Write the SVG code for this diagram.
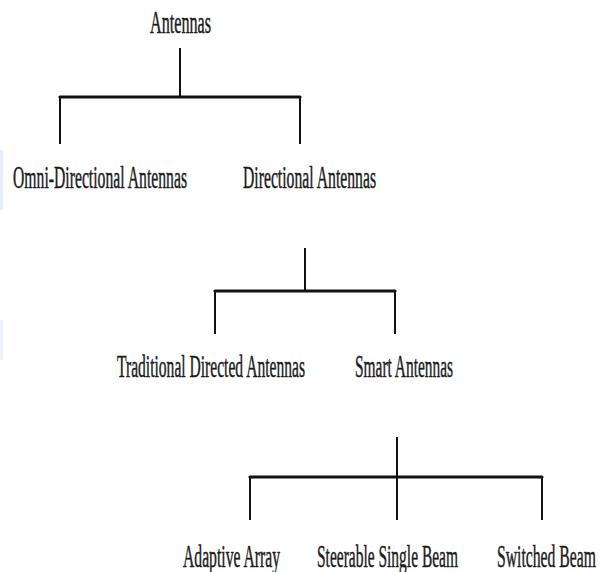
<svg xmlns="http://www.w3.org/2000/svg" width="601" height="572" viewBox="0 0 601 572">
  <style>
    .label { font-family: "Liberation Serif", "Times New Roman", serif; font-size: 31px; fill: #1c1c1c; stroke: #1c1c1c; stroke-width: 0.5; }
    .stem { stroke: #111; stroke-width: 2; fill: none; }
    .bar { stroke: #111; stroke-width: 3.2; fill: none; stroke-linecap: round; }
  </style>
  <rect x="0" y="0" width="601" height="572" fill="#ffffff"/>
  <!-- faint edge tint on the left border -->
  <rect x="0" y="150" width="3" height="60" fill="#e6eef9"/>
  <rect x="0" y="320" width="3" height="40" fill="#eef2f9"/>

  <g id="connectors">
    <!-- Antennas -> two families -->
    <line class="stem" x1="180" y1="48" x2="180" y2="97"/>
    <line class="bar" x1="60" y1="97" x2="300" y2="97"/>
    <line class="stem" x1="60" y1="97" x2="60" y2="144"/>
    <line class="stem" x1="300" y1="97" x2="300" y2="144"/>
    <!-- Directional -> traditional / smart -->
    <line class="stem" x1="305" y1="248" x2="305" y2="291"/>
    <line class="bar" x1="215" y1="291" x2="395" y2="291"/>
    <line class="stem" x1="215" y1="291" x2="215" y2="334"/>
    <line class="stem" x1="395" y1="291" x2="395" y2="334"/>
    <!-- Smart -> three beam types -->
    <line class="stem" x1="397" y1="437" x2="397" y2="520"/>
    <line class="bar" x1="250" y1="477" x2="542" y2="477"/>
    <line class="stem" x1="250" y1="477" x2="250" y2="520"/>
    <line class="stem" x1="542" y1="477" x2="542" y2="520"/>
  </g>

  <!-- labels are set in a condensed serif: scaled to half width -->
  <g id="antennas">
    <text class="label" transform="translate(150,33) scale(0.5,1)" textLength="122" lengthAdjust="spacingAndGlyphs">Antennas</text>
  </g>
  <g id="omni-directional">
    <text class="label" transform="translate(13,188) scale(0.5,1)" textLength="348" lengthAdjust="spacingAndGlyphs">Omni-Directional Antennas</text>
  </g>
  <g id="directional">
    <text class="label" transform="translate(243,188) scale(0.5,1)" textLength="266" lengthAdjust="spacingAndGlyphs">Directional Antennas</text>
  </g>
  <g id="traditional-directed">
    <text class="label" transform="translate(117,377) scale(0.5,1)" textLength="376" lengthAdjust="spacingAndGlyphs">Traditional Directed Antennas</text>
  </g>
  <g id="smart">
    <text class="label" transform="translate(355,377) scale(0.5,1)" textLength="196" lengthAdjust="spacingAndGlyphs">Smart Antennas</text>
  </g>
  <g id="adaptive-array">
    <text class="label" transform="translate(183,567) scale(0.5,1)" textLength="194" lengthAdjust="spacingAndGlyphs">Adaptive Array</text>
  </g>
  <g id="steerable-single-beam">
    <text class="label" transform="translate(317,567) scale(0.5,1)" textLength="282" lengthAdjust="spacingAndGlyphs">Steerable Single Beam</text>
  </g>
  <g id="switched-beam">
    <text class="label" transform="translate(497,567) scale(0.5,1)" textLength="198" lengthAdjust="spacingAndGlyphs">Switched Beam</text>
  </g>
</svg>
